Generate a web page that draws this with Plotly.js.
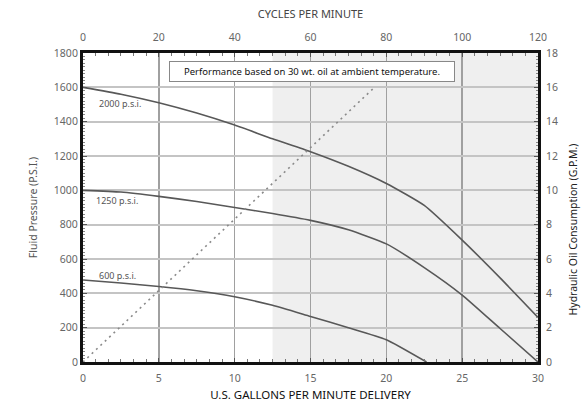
<!DOCTYPE html>
<html><head><meta charset="utf-8">
<script src="https://cdn.plot.ly/plotly-3.0.1.min.js"></script>
<style>html,body{margin:0;padding:0;background:#fff;}#chart{width:581px;height:404px;}</style>
</head><body><div id="chart"></div>
<script>
// U.S. gallons per minute delivery (x) vs fluid pressure (psi)
const gpm2000 = [0, 2.5, 5, 7.5, 10, 12.5, 15, 17.5, 20, 22.5, 25, 27.5, 30];
const psi2000 = [1600, 1560, 1510, 1450, 1380, 1300, 1225, 1140, 1040, 912, 710, 490, 260];
const gpm1250 = [0, 2.5, 5, 7.5, 10, 12.5, 15, 17.5, 20, 22.5, 25, 27.5, 30];
const psi1250 = [1000, 990, 965, 935, 900, 865, 825, 770, 688, 550, 390, 195, 0];
const gpm600 = [0, 2.5, 5, 7.5, 10, 12.5, 15, 17.5, 20, 22.65];
const psi600 = [478, 460, 440, 415, 380, 330, 265, 200, 130, 0];
// Hydraulic oil consumption (G.P.M.) line
const gpmOil = [0, 19.1];
const oilConsumption = [0, 15.9];
// Axis ranges / labels
const cyclesRange = [0, 120];
const curveLabels = ['2000 p.s.i.', '1250 p.s.i.', '600 p.s.i.'];
const labelX = [2.45, 2.25, 2.3];
const labelY = [1503, 938, 505];
const shadeStart = 12.5;

const curveLine = {color: '#585858', width: 1.6, shape: 'spline', smoothing: 0.5};
const traces = [
  {x: gpm2000, y: psi2000, mode: 'lines', line: curveLine, xaxis: 'x', yaxis: 'y', hoverinfo: 'skip'},
  {x: gpm1250, y: psi1250, mode: 'lines', line: curveLine, xaxis: 'x', yaxis: 'y', hoverinfo: 'skip'},
  {x: gpm600, y: psi600, mode: 'lines', line: curveLine, xaxis: 'x', yaxis: 'y', hoverinfo: 'skip'},
  {x: gpmOil, y: oilConsumption, mode: 'lines', line: {color: '#8a8a8a', width: 1.6, dash: '2px,4px'}, xaxis: 'x', yaxis: 'y2', hoverinfo: 'skip'},
  {x: cyclesRange, y: [0, 0], mode: 'markers', marker: {opacity: 0}, xaxis: 'x2', yaxis: 'y', hoverinfo: 'skip'}
];

const tickFont = {family: 'Noto Sans, sans-serif', size: 10.5, color: '#666'};
const annotations = curveLabels.map((t, i) => ({
  x: labelX[i], y: labelY[i], xref: 'x', yref: 'y', text: t, showarrow: false,
  font: {family: 'Noto Sans, sans-serif', size: 9, color: '#555'}
}));
annotations.push({
  x: 15.1, y: 1695, xref: 'x', yref: 'y', showarrow: false,
  text: 'Performance based on 30 wt. oil at ambient temperature.',
  font: {family: 'Noto Sans, sans-serif', size: 9.5, color: '#111'},
  bgcolor: '#fff', bordercolor: '#888', borderwidth: 1, borderpad: 3, width: 278
});
annotations.push({
  x: 1.0, xref: 'paper', xshift: 34, y: 0.5, yref: 'paper', yshift: -22, showarrow: false,
  text: 'Hydraulic Oil Consumption (G.P.M.)', textangle: -90, xanchor: 'center', yanchor: 'middle',
  font: {family: 'Noto Sans, sans-serif', size: 10.5, color: '#222'}
});

const layout = {
  width: 581, height: 404,
  margin: {l: 83, r: 43, t: 53, b: 42},
  paper_bgcolor: '#fff', plot_bgcolor: '#fff',
  showlegend: false,
  xaxis: {
    range: [0, 30], dtick: 5, tick0: 0, showgrid: true, gridcolor: '#a0a0a0', gridwidth: 1.5,
    showline: true, linecolor: '#111', linewidth: 3, mirror: false,
    ticks: 'inside', ticklen: 4, tickcolor: '#555', tickfont: tickFont, zeroline: false, ticklabelstandoff: 4,
    minor: {dtick: 5/6, ticks: 'inside', ticklen: 3, tickcolor: '#777', showgrid: false},
    title: {text: 'U.S. GALLONS PER MINUTE DELIVERY', font: {family: 'Noto Sans, sans-serif', size: 11.5, color: '#111'}, standoff: 8}
  },
  xaxis2: {
    range: cyclesRange, dtick: 20, tick0: 0, overlaying: 'x', side: 'top', anchor: 'y',
    showgrid: false, showline: true, linecolor: '#111', linewidth: 3,
    ticks: 'inside', ticklen: 4, tickcolor: '#555', tickfont: tickFont, zeroline: false, ticklabelstandoff: 5,
    minor: {dtick: 20/6, ticks: 'inside', ticklen: 3, tickcolor: '#777', showgrid: false},
    title: {text: 'CYCLES PER MINUTE', font: {family: 'Noto Sans, sans-serif', size: 11, color: '#444'}, standoff: 9}
  },
  yaxis: {
    range: [0, 1800], dtick: 200, tick0: 0, showgrid: true, gridcolor: '#c4c4c4', gridwidth: 2,
    showline: true, linecolor: '#111', linewidth: 3,
    ticks: 'inside', ticklen: 4, tickcolor: '#555', tickfont: tickFont, zeroline: false,
    minor: {dtick: 20, ticks: 'inside', ticklen: 2, tickcolor: '#888', showgrid: false},
    title: {text: 'Fluid Pressure (P.S.I.)', font: {family: 'Noto Sans, sans-serif', size: 10.5, color: '#555'}, standoff: 15}
  },
  yaxis2: {
    range: [0, 18], dtick: 2, tick0: 0, overlaying: 'y', side: 'right', anchor: 'x',
    showgrid: false, showline: true, linecolor: '#111', linewidth: 3,
    ticks: 'inside', ticklen: 4, tickcolor: '#555', tickfont: tickFont, zeroline: false, ticklabelstandoff: 3,
    minor: {dtick: 0.2, ticks: 'inside', ticklen: 2, tickcolor: '#888', showgrid: false}
  },
  shapes: [{
    type: 'rect', xref: 'x', yref: 'paper', x0: shadeStart, x1: 30, y0: 0, y1: 1,
    fillcolor: '#efefef', line: {width: 0}, layer: 'below'
  }],
  annotations: annotations
};

Plotly.newPlot('chart', traces, layout, {displayModeBar: false, staticPlot: true});
</script></body></html>
